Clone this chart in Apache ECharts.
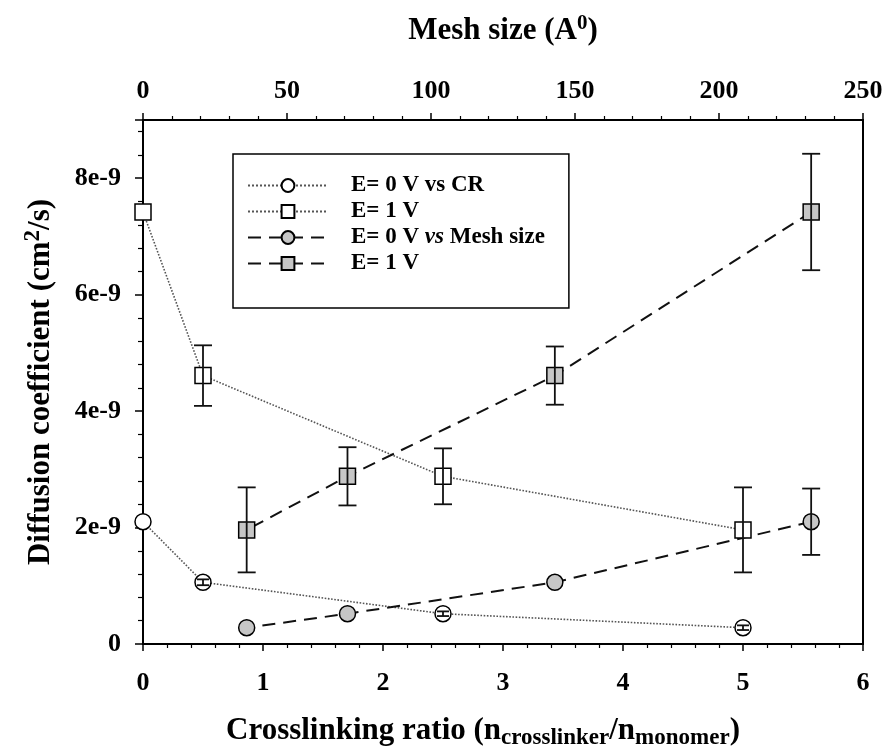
<!DOCTYPE html>
<html>
<head>
<meta charset="utf-8">
<script src="https://cdn.jsdelivr.net/npm/echarts@6/dist/echarts.min.js"></script>
<style>html,body{margin:0;background:#fff}#main{width:887px;height:756px}</style>
</head>
<body>
<div id="main"></div>
<script>
// crosslinking ratio (bottom axis) and the matching mesh size (top axis)
const crRatio = [0, 0.5, 2.5, 5];
const meshSize = [232, 143, 71, 36];

// diffusion coefficient (cm2/s)
const diff0V = [2.1e-9, 1.06e-9, 0.52e-9, 0.28e-9];
const diff1V = [7.42e-9, 4.61e-9, 2.88e-9, 1.96e-9];

// error bar half lengths
const err0VCR = [0, 0.05e-9, 0.04e-9, 0.04e-9];
const err1VCR = [0, 0.52e-9, 0.48e-9, 0.73e-9];
const err0VMesh = [0.57e-9, 0, 0, 0];
const err1VMesh = [1.0e-9, 0.5e-9, 0.5e-9, 0.73e-9];

const seriesNames = ['E= 0 V vs CR', 'E= 1 V ', 'E= 0 V vs Mesh size', 'E= 1 V'];

const FONT = 'Liberation Serif';

const openSymbol = { color: '#fff', borderColor: '#000', borderWidth: 1.5 };
const shadedSymbol = { color: '#c6c6c6', borderColor: '#000', borderWidth: 1.5 };
const dotted = { type: 'dotted', width: 1.6, color: '#555' };
const dashed = { type: [13, 8], width: 2, color: '#111' };

function pairs(xs, ys) {
    return xs.map((x, i) => [x, ys[i]]);
}

function errorBars(xIndex, xs, ys, errs, cap) {
    const data = [];
    xs.forEach((x, i) => {
        if (errs[i] > 0) data.push([x, ys[i] - errs[i], ys[i] + errs[i]]);
    });
    return {
        type: 'custom',
        xAxisIndex: xIndex,
        z: 4,
        silent: true,
        data: data,
        encode: { x: 0, y: [1, 2] },
        renderItem: (params, api) => {
            const lo = api.coord([api.value(0), api.value(1)]);
            const hi = api.coord([api.value(0), api.value(2)]);
            const st = { stroke: '#111', lineWidth: 1.8 };
            return {
                type: 'group',
                children: [
                    { type: 'line', shape: { x1: lo[0], y1: lo[1], x2: hi[0], y2: hi[1] }, style: st },
                    { type: 'line', shape: { x1: lo[0] - cap, y1: lo[1], x2: lo[0] + cap, y2: lo[1] }, style: st },
                    { type: 'line', shape: { x1: hi[0] - cap, y1: hi[1], x2: hi[0] + cap, y2: hi[1] }, style: st }
                ]
            };
        }
    };
}

const labelStyle = { fontFamily: FONT, fontWeight: 'bold', fontSize: 26, color: '#000' };
const nameStyle = { fontFamily: FONT, fontWeight: 'bold', fontSize: 31, color: '#000' };

const option = {
    animation: false,
    backgroundColor: '#fff',
    grid: {
        left: 143, right: 24, top: 120, bottom: 112,
        show: true, borderColor: '#000', borderWidth: 2
    },
    legend: {
        orient: 'vertical',
        left: 233,
        top: 154,
        data: seriesNames,
        itemWidth: 80,
        itemHeight: 16,
        itemGap: 3,
        padding: [20, 24, 33, 14],
        borderColor: '#000',
        borderWidth: 1.5,
        textStyle: {
            fontFamily: FONT, fontWeight: 'bold', fontSize: 23, color: '#000', lineHeight: 23,
            rich: {
                p: { width: 18 },
                a: { fontFamily: FONT, fontWeight: 'bold', fontSize: 23, color: '#000' },
                i: { fontFamily: FONT, fontWeight: 'bold', fontStyle: 'italic', fontSize: 23, color: '#000' }
            }
        },
        formatter: name => {
            if (name === seriesNames[2]) return '{p|}{a|E= 0 V }{i|vs}{a| Mesh size}';
            return '{p|}{a|' + name.trim() + '}';
        }
    },
    xAxis: [
        {
            type: 'value', position: 'bottom',
            min: 0, max: 6, interval: 1,
            name: '{a|Crosslinking ratio (n}{s|crosslinker}{a|/n}{s|monomer}{a|)}',
            nameLocation: 'middle', nameGap: 68,
            nameTextStyle: {
                padding: [0, 40, 0, 0],
                rich: {
                    a: nameStyle,
                    s: { fontFamily: FONT, fontWeight: 'bold', fontSize: 23, color: '#000', padding: [15, 0, 0, 0] }
                }
            },
            axisLine: { onZero: false, lineStyle: { color: '#000', width: 2 } },
            axisTick: { length: 7, lineStyle: { color: '#000', width: 1.5 } },
            minorTick: { show: true, splitNumber: 5, length: 4, lineStyle: { color: '#000', width: 1.2 } },
            axisLabel: Object.assign({ margin: 26 }, labelStyle),
            splitLine: { show: false }
        },
        {
            type: 'value', position: 'top',
            min: 0, max: 250, interval: 50,
            name: '{a|Mesh size (A}{u|0}{a|)}',
            nameLocation: 'middle', nameGap: 72,
            nameTextStyle: {
                rich: {
                    a: nameStyle,
                    u: { fontFamily: FONT, fontWeight: 'bold', fontSize: 21, color: '#000', padding: [0, 0, 14, 0] }
                }
            },
            axisLine: { onZero: false, lineStyle: { color: '#000', width: 2 } },
            axisTick: { length: 7, lineStyle: { color: '#000', width: 1.5 } },
            minorTick: { show: true, splitNumber: 5, length: 4, lineStyle: { color: '#000', width: 1.2 } },
            axisLabel: Object.assign({ margin: 16 }, labelStyle),
            splitLine: { show: false }
        }
    ],
    yAxis: {
        type: 'value',
        min: 0, max: 9e-9, interval: 2e-9,
        name: '{a|Diffusion coefficient (cm}{u|2}{a|/s)}',
        nameLocation: 'middle', nameGap: 84,
        nameTextStyle: {
            rich: {
                a: nameStyle,
                u: { fontFamily: FONT, fontWeight: 'bold', fontSize: 23, color: '#000', padding: [0, 0, 14, 0] }
            }
        },
        axisLine: { show: true, onZero: false, lineStyle: { color: '#000', width: 2 } },
        axisTick: { show: true, length: 8, lineStyle: { color: '#000', width: 1.5 } },
        minorTick: { show: true, splitNumber: 5, length: 5, lineStyle: { color: '#000', width: 1.2 } },
        axisLabel: Object.assign({
            margin: 22,
            showMaxLabel: false,
            formatter: v => v === 0 ? '0' : Math.round(v / 1e-9) + 'e-9'
        }, labelStyle),
        splitLine: { show: false }
    },
    series: [
        {
            name: seriesNames[0], type: 'line', xAxisIndex: 0,
            data: pairs(crRatio, diff0V),
            symbol: 'circle', symbolSize: 16,
            itemStyle: openSymbol, lineStyle: dotted, z: 3
        },
        {
            name: seriesNames[1], type: 'line', xAxisIndex: 0,
            data: pairs(crRatio, diff1V),
            symbol: 'rect', symbolSize: 16,
            itemStyle: openSymbol, lineStyle: dotted, z: 3
        },
        {
            name: seriesNames[2], type: 'line', xAxisIndex: 1,
            data: pairs(meshSize, diff0V),
            symbol: 'circle', symbolSize: 16,
            itemStyle: shadedSymbol, lineStyle: dashed, z: 3
        },
        {
            name: seriesNames[3], type: 'line', xAxisIndex: 1,
            data: pairs(meshSize, diff1V),
            symbol: 'rect', symbolSize: 16,
            itemStyle: shadedSymbol, lineStyle: dashed, z: 3
        },
        errorBars(0, crRatio, diff0V, err0VCR, 6),
        errorBars(0, crRatio, diff1V, err1VCR, 9),
        errorBars(1, meshSize, diff0V, err0VMesh, 9),
        errorBars(1, meshSize, diff1V, err1VMesh, 9)
    ]
};

const myChart = echarts.init(document.getElementById('main'));
myChart.setOption(option);
</script>
</body>
</html>
